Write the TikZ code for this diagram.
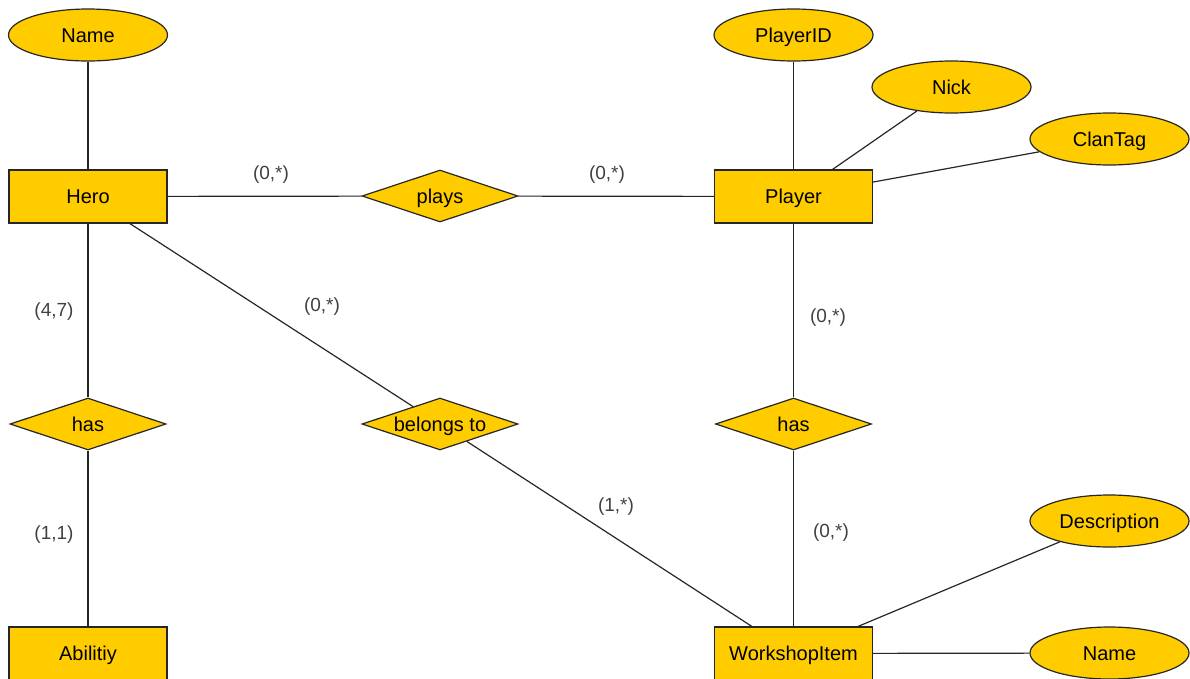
\documentclass[tikz,border=0pt]{standalone}
\usepackage{fontspec}
\setmainfont{Liberation Sans}
\usepackage{xcolor}
\usetikzlibrary{shapes.geometric}
\definecolor{erfill}{HTML}{FFCC00}

\begin{document}
\begin{tikzpicture}[x=1pt,y=-1pt,
    entity/.style={draw=black!85, line width=1.2pt, fill=erfill, rectangle,
      minimum width=158pt, minimum height=53pt, inner sep=0pt,
      text height=14.5pt, text depth=0pt,
      font=\fontsize{20}{24}\selectfont},
    attrib/.style={draw=black!85, line width=1.2pt, fill=erfill, ellipse,
      minimum width=159pt, minimum height=52pt, inner sep=0pt,
      text height=14.5pt, text depth=0pt,
      font=\fontsize{20}{24}\selectfont},
    relship/.style={draw=black!85, line width=1.2pt, fill=erfill, diamond,
      aspect=3, minimum width=156pt, minimum height=52pt, inner sep=0pt,
      text height=14.5pt, text depth=0pt,
      font=\fontsize{20}{24}\selectfont,
      execute at begin node={\hbox to 0pt\bgroup\hss},
      execute at end node={\hss\egroup}},
    card/.style={text=black!75, text height=13.5pt, text depth=0pt,
      font=\fontsize{19}{22}\selectfont},
    link/.style={draw=black!85, line width=1.2pt}]
    \clip (0,0) rectangle (1190,678);
    % Hero side
    \node[attrib] (heroname) at (88,35) {Name};
    \node[entity] (hero) at (88,196.5) {Hero};
    \node[relship] (hasabil) at (88,424) {has};
    \node[entity] (abil) at (88,653.5) {Abilitiy};
    % Relations in the middle
    \node[relship] (plays) at (440,196) {plays};
    \node[relship] (belongs) at (440,424) {belongs to};
    % Player side
    \node[attrib] (playerid) at (793.5,35) {PlayerID};
    \node[attrib] (nick) at (951.5,87) {Nick};
    \node[attrib] (clantag) at (1109.5,139) {ClanTag};
    \node[entity] (player) at (793.5,196.5) {Player};
    \node[relship] (hasitem) at (793.5,424) {has};
    \node[entity] (item) at (793.5,653.5) {WorkshopItem};
    \node[attrib] (descr) at (1109.5,521) {Description};
    \node[attrib] (itemname) at (1109.5,653) {Name};
    % Connectors
    \draw[link] (heroname) -- (hero);
    \draw[link] (hero) -- (hasabil);
    \draw[link] (hasabil) -- (abil);
    \draw[link] (hero) -- (plays);
    \draw[link] (plays) -- (player);
    \draw[link] (hero) -- (belongs);
    \draw[link] (belongs) -- (item);
    \draw[link] (playerid) -- (player);
    \draw[link] (nick) -- (player);
    \draw[link] (clantag) -- (player);
    \draw[link] (player) -- (hasitem);
    \draw[link] (hasitem) -- (item);
    \draw[link] (descr) -- (item);
    \draw[link] (itemname) -- (item);
    % Cardinalities
    \node[card] (c1) at (271,173) {(0,*)};
    \node[card] (c2) at (607,173) {(0,*)};
    \node[card] (c3) at (54,310) {(4,7)};
    \node[card] (c4) at (54,533) {(1,1)};
    \node[card] (c5) at (322,305) {(0,*)};
    \node[card] (c6) at (616,505) {(1,*)};
    \node[card] (c7) at (828,316) {(0,*)};
    \node[card] (c8) at (831,531) {(0,*)};
\end{tikzpicture}
\end{document}
